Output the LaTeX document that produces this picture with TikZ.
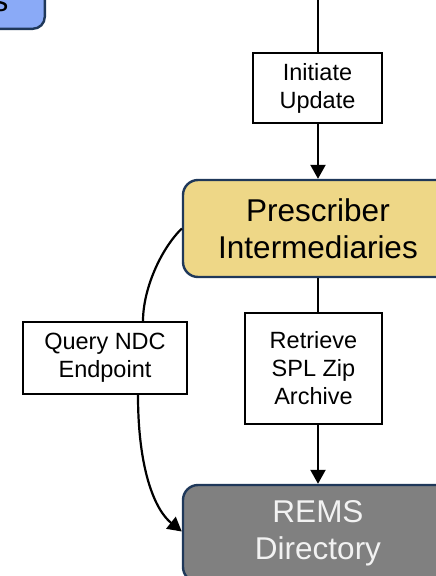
\documentclass[tikz,border=0pt]{standalone}
\usepackage{fontspec}
\setmainfont{Liberation Sans}
\usetikzlibrary{arrows.meta}
\definecolor{edgenavy}{RGB}{31,56,90}
\definecolor{goldfill}{RGB}{238,215,135}
\definecolor{greyfill}{RGB}{128,128,128}
\definecolor{bluefill}{RGB}{138,170,247}
\definecolor{paletext}{RGB}{242,242,242}
\begin{document}
\begin{tikzpicture}[x=1pt,y=-1pt,
  conn/.style={line width=2.2pt, black},
  arr/.style={conn, -{Triangle[width=15pt,length=14pt]}},
  stepbox/.style={draw=black, line width=2pt, fill=white, rectangle, inner sep=0pt,
    align=center, font=\fontsize{23.5}{28}\selectfont},
  actor/.style={draw=edgenavy, line width=2.4pt, rectangle, rounded corners=15pt,
    inner sep=0pt, align=center, minimum width=270pt, minimum height=97pt,
    font=\fontsize{31.5}{37.5}\selectfont}]
\useasboundingbox (0,0) rectangle (436,576);
\clip (0,0) rectangle (436,576);

% partially visible system box at the top left
\node[actor, fill=bluefill, rounded corners=12pt, minimum width=160pt, minimum height=90pt,
  anchor=south east] (sys) at (46,30) {};
\node[font=\fontsize{31.5}{37.5}\selectfont, anchor=base east, inner sep=0pt] (syslabel) at (8.5,11.5) {s};

% main actors
\node[actor, fill=goldfill] (pi) at (318,228.5) {Prescriber\\Intermediaries};
\node[actor, fill=greyfill, text=paletext] (rems) at (318,533.5) {REMS\\Directory};

% labelled steps
\node[stepbox, minimum width=129pt, minimum height=70pt] (iu) at (317.5,88) {Initiate\\Update};
\node[stepbox, minimum width=137pt, minimum height=111pt] (rt) at (313.5,368.5) {Retrieve\\SPL Zip\\Archive};
\node[stepbox, minimum width=164pt, minimum height=72pt] (qn) at (105,358) {Query NDC\\Endpoint};

\coordinate (topin) at (318,0);

% connectors
\draw[conn] (topin) -- (topin |- iu.north);
\draw[arr] (topin |- iu.south) -- (pi.north);
\draw[conn] (pi.south) -- (pi.south |- rt.north);
\draw[arr] (pi.south |- rt.south) -- (rems.north);
\draw[conn] (pi.west) .. controls (160,250) and (143,290) .. ([xshift=38pt]qn.north);
\draw[arr] ([xshift=33pt]qn.south) .. controls (138,470) and (155,510) .. ([yshift=2pt]rems.west);
\end{tikzpicture}
\end{document}
